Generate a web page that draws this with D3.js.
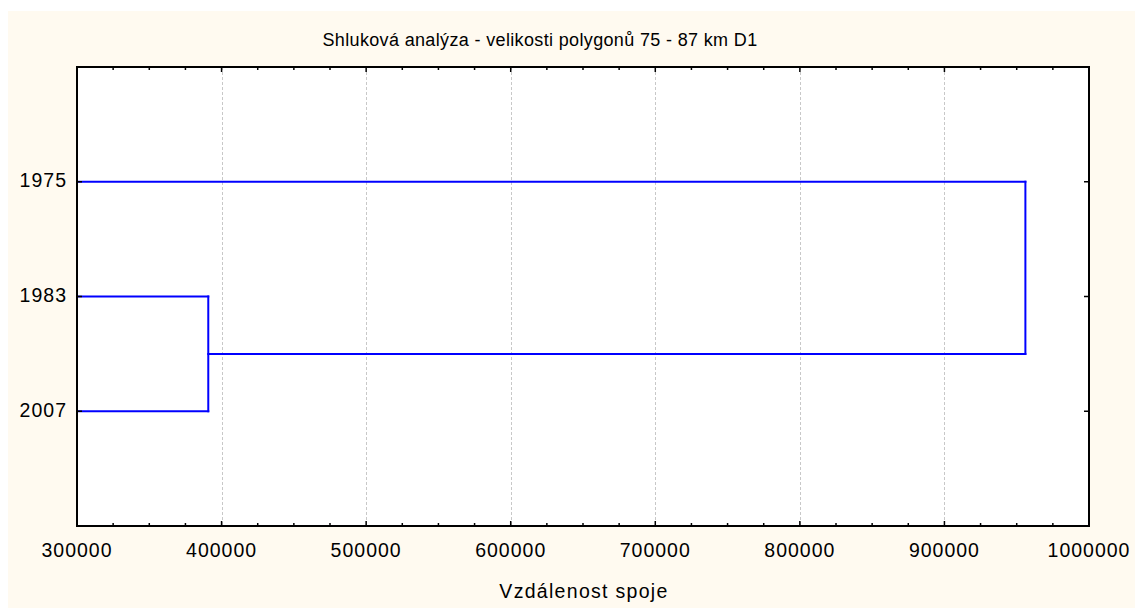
<!DOCTYPE html>
<html>
<head>
<meta charset="utf-8">
<script src="https://cdn.jsdelivr.net/npm/d3@7"></script>
<style>
  html, body { margin: 0; padding: 0; background: #ffffff; }
  svg { display: block; }
  text { font-family: "Liberation Sans", Arial, sans-serif; fill: #000; }
</style>
</head>
<body>
<svg id="chart" width="1135" height="608"></svg>
<script>
// Leaves of the dendrogram, listed top to bottom
const leaves = ["1975", "1983", "2007"];
// Merge steps: which two nodes join, and at what linkage distance
const mergeA = ["1983", "1975"];
const mergeB = ["2007", "M1"];
const mergeNames = ["M1", "M2"];
const mergeDist = [390800, 956000];
// Axis ticks
const xTicks = [300000, 400000, 500000, 600000, 700000, 800000, 900000, 1000000];
const xDomain = [300000, 1000000];

const title = "Shluková analýza - velikosti polygonů 75 - 87 km D1";
const xTitle = "Vzdálenost spoje";

const W = 1135, H = 608;
const plot = { left: 77, right: 1089, top: 67, bottom: 526 };

const svg = d3.select("#chart");

// panel background
svg.append("rect").attr("x", 8).attr("y", 11).attr("width", W - 8).attr("height", H - 11)
  .attr("fill", "#fffaf0");
svg.append("rect").attr("x", plot.left).attr("y", plot.top)
  .attr("width", plot.right - plot.left).attr("height", plot.bottom - plot.top)
  .attr("fill", "#ffffff");

const x = d3.scaleLinear().domain(xDomain).range([plot.left, plot.right]).clamp(true);
const y = d3.scalePoint().domain(leaves).range([plot.top, plot.bottom]).padding(1);

// vertical grid lines at the major ticks
svg.append("g").selectAll("line")
  .data(xTicks.filter(t => t > xDomain[0] && t < xDomain[1]))
  .join("line")
  .attr("x1", d => Math.round(x(d)) + 0.5).attr("x2", d => Math.round(x(d)) + 0.5)
  .attr("y1", plot.top).attr("y2", plot.bottom)
  .attr("stroke", "#c8c8c8").attr("stroke-width", 1).attr("stroke-dasharray", "3,2");

// dendrogram branches
const pos = {};
leaves.forEach(l => { pos[l] = { x: xDomain[0], y: y(l) }; });
const segs = [];
mergeNames.forEach((name, i) => {
  const a = pos[mergeA[i]], b = pos[mergeB[i]], d = mergeDist[i];
  segs.push([a.x, a.y, d, a.y]);
  segs.push([b.x, b.y, d, b.y]);
  segs.push([d, a.y, d, b.y]);
  pos[name] = { x: d, y: (a.y + b.y) / 2 };
});
svg.append("g").selectAll("line").data(segs).join("line")
  .attr("x1", s => x(s[0])).attr("y1", s => s[1])
  .attr("x2", s => x(s[2])).attr("y2", s => s[3])
  .attr("stroke", "#0000ff").attr("stroke-width", 2).attr("stroke-linecap", "square");

// axes: bottom and top with major and minor ticks, ticks pointing inward
const minor = d3.range(xDomain[0], xDomain[1] + 1, 25000).filter(v => v % 100000 !== 0);
function xAxisTicks(yBase, dir) {
  const g = svg.append("g");
  g.selectAll("line.major").data(xTicks).join("line")
    .attr("x1", d => x(d)).attr("x2", d => x(d))
    .attr("y1", yBase).attr("y2", yBase + dir * 5)
    .attr("stroke", "#000").attr("stroke-width", 1.5);
  g.selectAll("line.minor").data(minor).join("line")
    .attr("x1", d => x(d)).attr("x2", d => x(d))
    .attr("y1", yBase).attr("y2", yBase + dir * 3)
    .attr("stroke", "#000").attr("stroke-width", 1.5);
}
xAxisTicks(plot.bottom, -1);
xAxisTicks(plot.top, 1);

function yAxisTicks(xBase, dir) {
  svg.append("g").selectAll("line").data(leaves).join("line")
    .attr("x1", xBase).attr("x2", xBase + dir * 5)
    .attr("y1", d => y(d)).attr("y2", d => y(d))
    .attr("stroke", "#000").attr("stroke-width", 1.5);
}
yAxisTicks(plot.left, 1);
yAxisTicks(plot.right, -1);

// frame
svg.append("rect").attr("x", plot.left).attr("y", plot.top)
  .attr("width", plot.right - plot.left).attr("height", plot.bottom - plot.top)
  .attr("fill", "none").attr("stroke", "#000").attr("stroke-width", 2);

// tick labels
const fmt = d3.format("d");
svg.append("g").selectAll("text").data(xTicks).join("text")
  .attr("x", d => x(d)).attr("y", 557)
  .attr("text-anchor", "middle").attr("font-size", "19.5px")
  .attr("letter-spacing", "1px")
  .text(d => fmt(d));

svg.append("g").selectAll("text").data(leaves).join("text")
  .attr("x", 67).attr("y", d => y(d) + 5.5)
  .attr("text-anchor", "end").attr("font-size", "19.5px")
  .attr("letter-spacing", "1px")
  .text(d => d);

// titles
svg.append("text").attr("x", 540).attr("y", 46)
  .attr("text-anchor", "middle").attr("font-size", "18px")
  .attr("letter-spacing", "0.35px")
  .text(title);

svg.append("text").attr("x", 584).attr("y", 598)
  .attr("text-anchor", "middle").attr("font-size", "19.5px")
  .attr("letter-spacing", "1.3px")
  .text(xTitle);
</script>
</body>
</html>
